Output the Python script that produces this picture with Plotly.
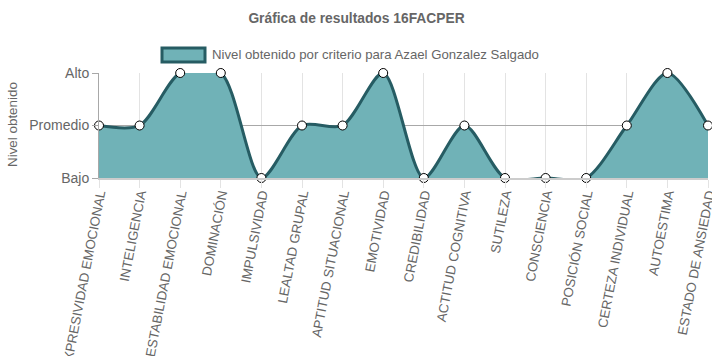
import plotly.graph_objects as go

categories = ["EXPRESIVIDAD EMOCIONAL", "INTELIGENCIA", "ESTABILIDAD EMOCIONAL", "DOMINACIÓN",
              "IMPULSIVIDAD", "LEALTAD GRUPAL", "APTITUD SITUACIONAL", "EMOTIVIDAD",
              "CREDIBILIDAD", "ACTITUD COGNITIVA", "SUTILEZA", "CONSCIENCIA",
              "POSICIÓN SOCIAL", "CERTEZA INDIVIDUAL", "AUTOESTIMA", "ESTADO DE ANSIEDAD"]
values = [2, 2, 3, 3, 1, 2, 2, 3, 1, 2, 1, 1, 1, 2, 3, 2]
level_vals = [1, 2, 3]
level_text = ["Bajo", "Promedio", "Alto"]
series_name = "Nivel obtenido por criterio para Azael Gonzalez Salgado"
title_text = "Gráfica de resultados 16FACPER"
ytitle = "Nivel obtenido"

FILL = "rgba(112,178,183,1)"
LINE = "rgb(38,92,99)"
FONT = "Liberation Sans, Arial, sans-serif"
GREY = "#666666"

W, H = 712, 356
x_idx = list(range(len(categories)))

fig = go.Figure()
fig.add_trace(go.Scatter(
    x=x_idx, y=values, mode="lines", fill="tozeroy", fillcolor=FILL,
    line=dict(color=LINE, width=3, shape="spline", smoothing=0.8),
    showlegend=False, hoverinfo="skip", cliponaxis=True))
fig.add_trace(go.Scatter(
    x=x_idx, y=values, mode="markers",
    marker=dict(size=9, color="white", line=dict(color="black", width=1)),
    showlegend=False, cliponaxis=False))

fig.update_layout(
    width=W, height=H,
    margin=dict(l=99, r=4, t=73, b=178, autoexpand=False),
    paper_bgcolor="white", plot_bgcolor="white",
    font=dict(family=FONT, size=13.3, color=GREY),
    title=dict(text="<b>" + title_text + "</b>", x=356.5 / W, xanchor="center",
               y=1 - 18 / H, yanchor="middle", font=dict(size=13.8, color=GREY)),
    xaxis=dict(range=[0, len(categories) - 1], tickmode="array", tickvals=x_idx,
               ticktext=categories, tickangle=-79, showgrid=True, automargin=False,
               gridcolor="#e3e3e3", gridwidth=1, ticks="outside", ticklen=8,
               tickcolor="#e3e3e3", showline=True, linecolor="#cccccc", linewidth=2,
               ticklabeloverflow="allow", ticklabelstandoff=-7,
               tickfont=dict(size=13.3, color=GREY), zeroline=False, fixedrange=True),
    yaxis=dict(range=[1, 3], tickmode="array", tickvals=level_vals, ticktext=level_text,
               showgrid=True, gridcolor="#a8a8a8", gridwidth=1, ticks="outside",
               ticklen=6, tickcolor="#a8a8a8", showline=True, linecolor="#a8a8a8",
               linewidth=1, zeroline=False, tickfont=dict(size=14, color=GREY),
               automargin=False, fixedrange=True),
    showlegend=False,
)

# y-axis title
fig.add_annotation(text=ytitle, xref="paper", yref="paper",
                   x=(12 - 99) / 609, y=(178 - 125) / 105, textangle=-90,
                   showarrow=False, font=dict(size=13.4, color=GREY),
                   xanchor="center", yanchor="middle")

# legend box
fig.add_shape(type="rect", xref="paper", yref="paper",
              x0=(162 - 99) / 609, x1=(205 - 99) / 609,
              y0=(178 - 62) / 105, y1=(178 - 48) / 105,
              fillcolor=FILL, line=dict(color=LINE, width=3))
fig.add_annotation(text=series_name, xref="paper", yref="paper",
                   x=(210 - 99) / 609, y=(178 - 55) / 105, showarrow=False,
                   xanchor="left", yanchor="middle", font=dict(size=13.2, color=GREY))

fig.write_html("out.html", config={"displayModeBar": False},
               post_script="document.body.style.margin='0';document.body.style.overflow='hidden';")
